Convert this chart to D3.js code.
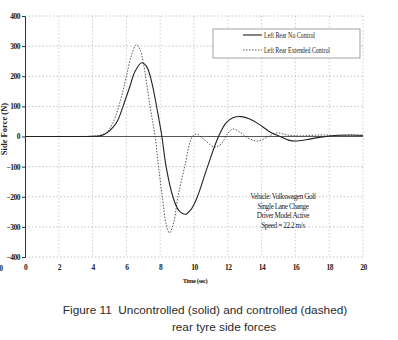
<!DOCTYPE html>
<html><head><meta charset="utf-8">
<script src="https://cdn.jsdelivr.net/npm/d3@7"></script>
<style>body{margin:0;background:#fff}svg{display:block}</style>
</head><body>
<svg id="c" width="398" height="340"></svg>
<script>
const xTicks = [0,2,4,6,8,10,12,14,16,18,20];
const yTicks = [400,300,200,100,0,-100,-200,-300,-400];
const seriesNames = ["Left Rear No Control","Left Rear Extended Control"];
const noControlT = [0,3,4,4.5,4.85,5.2,5.5,5.8,6.2,6.5,6.9,7.2,7.5,7.85,8.1,8.35,8.75,9.1,9.5,9.85,10.2,10.8,11.45,11.9,12.3,12.8,13.3,14,14.5,15.1,15.6,16,16.7,17.5,18.5,19.3,20];
const noControlV = [0,0,0.5,3,12,30,55,100,165,215,245,232,180,80,0,-100,-200,-245,-258,-240,-200,-100,0,45,62,66,58,35,15,0,-12,-15,-10,-2,4,5,4];
const extT = [0,3,4,4.5,4.85,5.2,5.7,6.0,6.3,6.6,6.8,7.0,7.4,7.7,7.9,8.15,8.35,8.55,8.8,9.05,9.45,9.9,10.15,10.6,11.2,11.6,12.0,12.3,12.7,13.2,13.8,14.4,14.9,15.5,16.3,17.5,18.5,20];
const extV = [0,0,1,5,15,45,130,200,270,305,290,245,100,0,-100,-210,-290,-320,-285,-200,-100,0,8,-10,-35,-25,10,25,15,-5,-15,0,12,5,2,5,3,3];
const notes = ["Vehicle: Volkswagen Golf","Single Lane Change","Driver Model Active","Speed = 22.2 m/s"];
const caption = ["Figure 11  Uncontrolled (solid) and controlled (dashed)","rear tyre side forces"];

const svg = d3.select("#c");
const x = d3.scaleLinear().domain([0,20]).range([25,363]);
const y = d3.scaleLinear().domain([-400,400]).range([257,16]);

// grid
const g = svg.append("g");
g.selectAll("line.v").data(xTicks.filter(d=>d>0)).join("line")
  .attr("x1",d=>x(d)).attr("x2",d=>x(d)).attr("y1",y(400)).attr("y2",y(-400))
  .attr("stroke","#bbb").attr("stroke-width",0.7).attr("stroke-dasharray","1.5,2");
g.selectAll("line.h").data(yTicks.filter(d=>d!==0)).join("line")
  .attr("x1",x(0)).attr("x2",x(20)).attr("y1",d=>y(d)).attr("y2",d=>y(d))
  .attr("stroke","#aaa").attr("stroke-width",0.7).attr("stroke-dasharray","1.5,2");
// zero line
svg.append("line").attr("x1",x(0)).attr("x2",x(20)).attr("y1",y(0)).attr("y2",y(0))
  .attr("stroke","#444").attr("stroke-width",0.9);

// y axis
const yAxis = d3.axisLeft(y).tickValues(yTicks).tickSize(3).tickPadding(2);
const ya = svg.append("g").attr("transform",`translate(${x(0)},0)`).call(yAxis);
ya.select(".domain").attr("stroke","#333");
ya.selectAll(".tick line").attr("stroke","#333");
ya.selectAll("text").attr("font-family","Liberation Serif").attr("font-weight","bold")
  .attr("font-size",7.5).attr("fill","#222").attr("letter-spacing","-0.5");

// x axis labels (no axis line; below plot)
const xAxis = d3.axisBottom(x).tickValues(xTicks).tickSize(0).tickPadding(8);
const xa = svg.append("g").attr("transform",`translate(0,${y(-400)})`).call(xAxis);
xa.select(".domain").remove();
xa.selectAll("text").attr("font-family","Liberation Serif").attr("font-weight","bold")
  .attr("font-size",7.5).attr("fill","#222").attr("letter-spacing","-0.5");
// cut-off label at left edge
svg.append("text").attr("x",x(0)-24).attr("y",y(-400)+14).attr("font-family","Liberation Serif")
  .attr("font-weight","bold").attr("font-size",7.5).attr("fill","#222").attr("text-anchor","middle").text("0");

// titles
svg.append("text").attr("transform","translate(7,129) rotate(-90)").attr("text-anchor","middle")
  .attr("font-family","Liberation Serif").attr("font-weight","bold").attr("font-size",8.5).attr("fill","#222")
  .text("Side Force (N)");
svg.append("text").attr("x",195).attr("y",283).attr("text-anchor","middle")
  .attr("font-family","Liberation Serif").attr("font-weight","bold").attr("font-size",6.5).attr("fill","#222")
  .attr("letter-spacing","-0.4").text("Time (sec)");

// lines
const line = d3.line().x(d=>x(d[0])).y(d=>y(d[1])).curve(d3.curveCatmullRom.alpha(0.5));
const d1 = noControlT.map((t,i)=>[t,noControlV[i]]);
const d2 = extT.map((t,i)=>[t,extV[i]]);
svg.append("path").attr("d",line(d2)).attr("fill","none").attr("stroke","#444")
  .attr("stroke-width",0.9).attr("stroke-dasharray","1.5,1.5");
svg.append("path").attr("d",line(d1)).attr("fill","none").attr("stroke","#222").attr("stroke-width",1.1);

// legend
const lg = svg.append("g");
lg.append("rect").attr("x",213).attr("y",29).attr("width",147).attr("height",29)
  .attr("fill","#fff").attr("stroke","#666").attr("stroke-width",0.6);
const ly = [35,50];
lg.selectAll("line.l").data(seriesNames).join("line")
  .attr("x1",243).attr("x2",262).attr("y1",(d,i)=>ly[i]).attr("y2",(d,i)=>ly[i])
  .attr("stroke",(d,i)=>i?"#444":"#222").attr("stroke-width",(d,i)=>i?0.9:1.1)
  .attr("stroke-dasharray",(d,i)=>i?"1.5,1.5":null);
lg.selectAll("text").data(seriesNames).join("text")
  .attr("x",264).attr("y",(d,i)=>ly[i]+2.5).attr("font-family","Liberation Serif")
  .attr("font-size",7.5).attr("fill","#222")
  .attr("textLength",(d,i)=>i?66:51).attr("lengthAdjust","spacingAndGlyphs").text(d=>d);

// notes
svg.selectAll("text.note").data(notes).join("text").attr("class","note")
  .attr("x",283).attr("y",(d,i)=>199+i*9.7).attr("text-anchor","middle")
  .attr("font-family","Liberation Serif").attr("font-size",7.2).attr("fill","#222")
  .attr("letter-spacing","-0.4").text(d=>d);

// caption
svg.selectAll("text.cap").data(caption).join("text").attr("class","cap")
  .attr("x",(d,i)=>i?224:205).attr("y",(d,i)=>314+i*17).attr("text-anchor","middle")
  .attr("font-family","Liberation Sans").attr("font-size",11.8).attr("fill","#2a2a2a")
  .style("white-space","pre")
  .text(d=>d);
</script>
</body></html>
